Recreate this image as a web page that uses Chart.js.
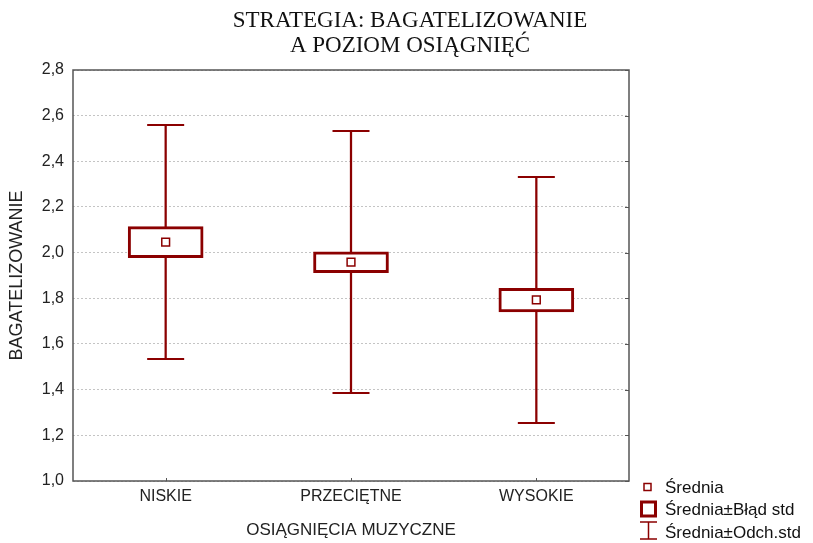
<!DOCTYPE html>
<html>
<head>
<meta charset="utf-8">
<script src="https://cdn.jsdelivr.net/npm/chart.js@4"></script>
<style>
  html, body { margin: 0; padding: 0; background: #fff; }
  #wrap { width: 813px; height: 543px; position: relative; }
</style>
</head>
<body>
<div id="wrap"><canvas id="chart" width="813" height="543"></canvas></div>
<script>
const categories = ['NISKIE', 'PRZECIĘTNE', 'WYSOKIE'];
const means  = [2.046, 1.959, 1.793];
const seLow  = [1.978, 1.912, 1.740];
const seHigh = [2.114, 2.004, 1.844];
const sdLow  = [1.534, 1.385, 1.254];
const sdHigh = [2.559, 2.533, 2.331];
const titleLines = ['STRATEGIA: BAGATELIZOWANIE', 'A POZIOM OSIĄGNIĘĆ'];
const legendLabels = ['Średnia', 'Średnia±Błąd std', 'Średnia±Odch.std'];

const RED = '#8b0000';
const SANS = 'Arial, "Liberation Sans", sans-serif';
const fmt = v => Number(v).toFixed(1).replace('.', ',');

// frame, inner ticks, title and legend
const decor = {
  id: 'decor',
  afterDraw(chart){
    const ctx = chart.ctx;
    const a = chart.chartArea;
    const y = chart.scales.y, x = chart.scales.x;
    ctx.save();
    ctx.strokeStyle = '#555';
    ctx.lineWidth = 1.5;
    ctx.strokeRect(a.left, a.top, a.right - a.left, a.bottom - a.top);
    ctx.lineWidth = 1;
    ctx.beginPath();
    y.ticks.forEach(t => {
      const py = Math.round(y.getPixelForValue(t.value)) + 0.5;
      ctx.moveTo(a.right - 4, py); ctx.lineTo(a.right, py);
    });
    categories.forEach((c, i) => {
      const px = Math.round(x.getPixelForValue(i)) + 0.5;
      ctx.moveTo(px, a.bottom - 3); ctx.lineTo(px, a.bottom);
    });
    ctx.stroke();

    // title
    ctx.fillStyle = '#111';
    ctx.font = '23px "Liberation Serif", "Times New Roman", serif';
    ctx.textAlign = 'center';
    ctx.textBaseline = 'alphabetic';
    ctx.fillText(titleLines[0], 410, 27);
    ctx.fillText(titleLines[1], 410, 52);

    // legend
    const lx = a.right + 11, ly = a.bottom + 6;
    ctx.strokeStyle = RED;
    ctx.fillStyle = '#fff';
    ctx.lineWidth = 1.5;
    ctx.fillRect(lx + 4, ly - 3.5, 7, 7);
    ctx.strokeRect(lx + 4, ly - 3.5, 7, 7);
    ctx.lineWidth = 3;
    ctx.strokeRect(lx + 1.5, ly + 22 - 7, 14, 14);
    ctx.lineWidth = 1.5;
    ctx.beginPath();
    ctx.moveTo(lx, ly + 35); ctx.lineTo(lx + 17, ly + 35);
    ctx.moveTo(lx + 8.5, ly + 35); ctx.lineTo(lx + 8.5, ly + 52);
    ctx.moveTo(lx, ly + 52); ctx.lineTo(lx + 17, ly + 52);
    ctx.stroke();
    ctx.fillStyle = '#111';
    ctx.font = '17px ' + SANS;
    ctx.textAlign = 'left';
    ctx.textBaseline = 'middle';
    legendLabels.forEach((t, i) => ctx.fillText(t, lx + 25, ly + 1 + i * 22.5));
    ctx.restore();
  }
};

new Chart(document.getElementById('chart'), {
  type: 'bar',
  data: {
    labels: categories,
    datasets: [
      { label: 'sd', data: categories.map((c, i) => [sdLow[i], sdHigh[i]]),
        backgroundColor: RED, borderWidth: 0, barThickness: 1.6, grouped: false, order: 3 },
      { label: 'se', data: categories.map((c, i) => [seLow[i], seHigh[i]]),
        backgroundColor: '#fff', borderColor: RED, borderWidth: 3, borderSkipped: false,
        barThickness: 75, grouped: false, order: 2 },
      { type: 'line', label: 'sdHigh', data: sdHigh, showLine: false, pointStyle: 'line',
        pointRadius: 18.5, borderColor: RED, borderWidth: 2, order: 1 },
      { type: 'line', label: 'sdLow', data: sdLow, showLine: false, pointStyle: 'line',
        pointRadius: 18.5, borderColor: RED, borderWidth: 2, order: 1 },
      { type: 'line', label: 'mean', data: means, showLine: false, pointStyle: 'rect',
        pointRadius: 5.5, backgroundColor: '#fff', borderColor: RED, borderWidth: 1.5, order: 0 }
    ]
  },
  options: {
    responsive: false,
    animation: false,
    layout: { padding: { top: 70, right: 184, bottom: 0, left: 0 } },
    plugins: { legend: { display: false }, tooltip: { enabled: false }, title: { display: false } },
    scales: {
      x: {
        grid: { display: false, drawTicks: false },
        border: { display: false },
        ticks: { color: '#222', font: { family: SANS, size: 16 }, padding: 6 },
        title: { display: true, text: 'OSIĄGNIĘCIA MUZYCZNE', color: '#222',
                 font: { family: SANS, size: 17 }, padding: { top: 0, bottom: 2 } },
        afterFit: s => { s.height = 62; }
      },
      y: {
        min: 1.0, max: 2.8,
        grid: { color: '#c4c4c4', drawTicks: false },
        border: { display: false, dash: [2, 2] },
        ticks: { stepSize: 0.2, color: '#222', font: { family: SANS, size: 16 }, padding: 9,
                 callback: v => fmt(v) },
        title: { display: true, text: 'BAGATELIZOWANIE', color: '#222',
                 font: { family: SANS, size: 18 }, padding: { top: 6, bottom: 0 } },
        afterFit: s => { s.width = 73; }
      }
    }
  },
  plugins: [decor]
});
</script>
</body>
</html>
